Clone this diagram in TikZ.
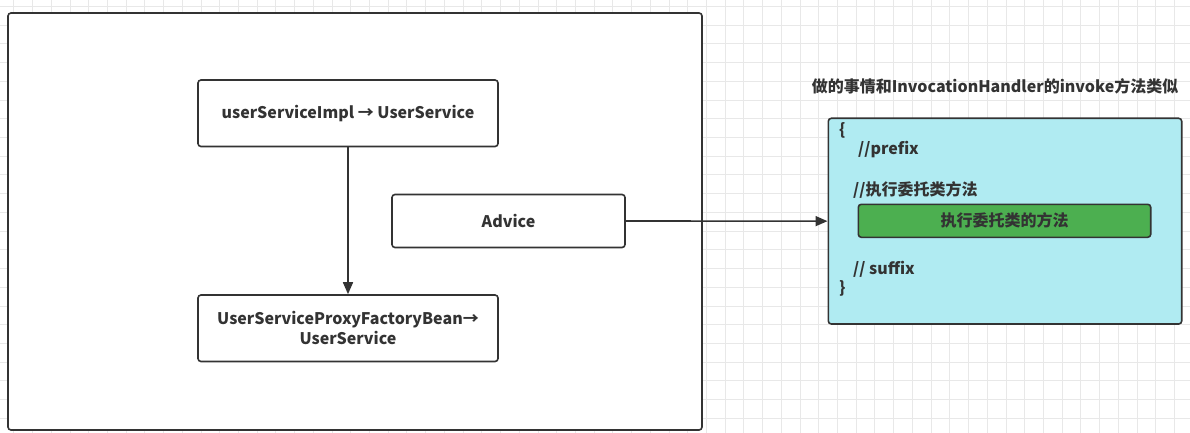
\documentclass[tikz,border=0pt]{standalone}
\usepackage{fontspec}
\setmainfont{Noto Sans CJK SC}
\usetikzlibrary{arrows.meta}
\definecolor{ink}{HTML}{333333}
\definecolor{gridc}{HTML}{E8E8E8}
\definecolor{cyanf}{HTML}{B0EBF2}
\definecolor{greenf}{HTML}{4CAF50}
\begin{document}
\begin{tikzpicture}[x=1pt,y=-1pt,
  box/.style={draw=ink,line width=1.6pt,rounded corners=3pt,fill=white,inner sep=0pt},
  txt/.style={font=\bfseries\fontsize{16}{20}\selectfont,text=ink},
  conn/.style={draw=ink,line width=1.6pt,-{Triangle[length=12pt,width=10pt]}}]
\useasboundingbox (0,0) rectangle (1190,433);
\fill[white] (0,0) rectangle (1190,433);
\foreach \i in {-38,...,26} \draw[gridc,line width=1pt] ({706.5+18.72*\i},0) -- ++(0,433);
\foreach \j in {0,...,23} \draw[gridc,line width=1pt] (0,{6.5+18.72*\j}) -- ++(1190,0);
% outer frame
\node[box,minimum width=694pt,minimum height=417pt] (outer) at (355,221.5) {};
% boxes
\node[box,txt,minimum width=300pt,minimum height=66.5pt] (impl) at (348,113.25) {userServiceImpl → UserService};
\node[box,txt,minimum width=233pt,minimum height=53pt] (advice) at (508.5,221) {Advice};
\node[box,txt,minimum width=300pt,minimum height=66.5pt,align=center] (proxy) at (348,328.25) {UserServiceProxyFactoryBean→\\UserService};
% right side
\node[txt] (title) at (995,86.7) {做的事情和InvocationHandler的invoke方法类似};
\node[box,fill=cyanf,minimum width=353.4pt,minimum height=205.7pt] (handler) at (1005,221.15) {};
\node[box,fill=greenf,txt,minimum width=292.4pt,minimum height=33pt] (delegate) at (1004.5,220.8) {执行委托类的方法};
\node[txt,anchor=west,inner sep=0pt] (lb) at (839,130) {\{};
\node[txt,anchor=west,inner sep=0pt] (pre) at (858,150) {//prefix};
\node[txt,anchor=west,inner sep=0pt] (exec) at (853,190) {//执行委托类方法};
\node[txt,anchor=west,inner sep=0pt] (suf) at (853,269.3) {// suffix};
\node[txt,anchor=west,inner sep=0pt] (rb) at (839,288) {\}};
% connectors
\draw[conn] (impl.south) -- (proxy.north);
\draw[conn] (advice.east) -- (handler.west);
\end{tikzpicture}
\end{document}
